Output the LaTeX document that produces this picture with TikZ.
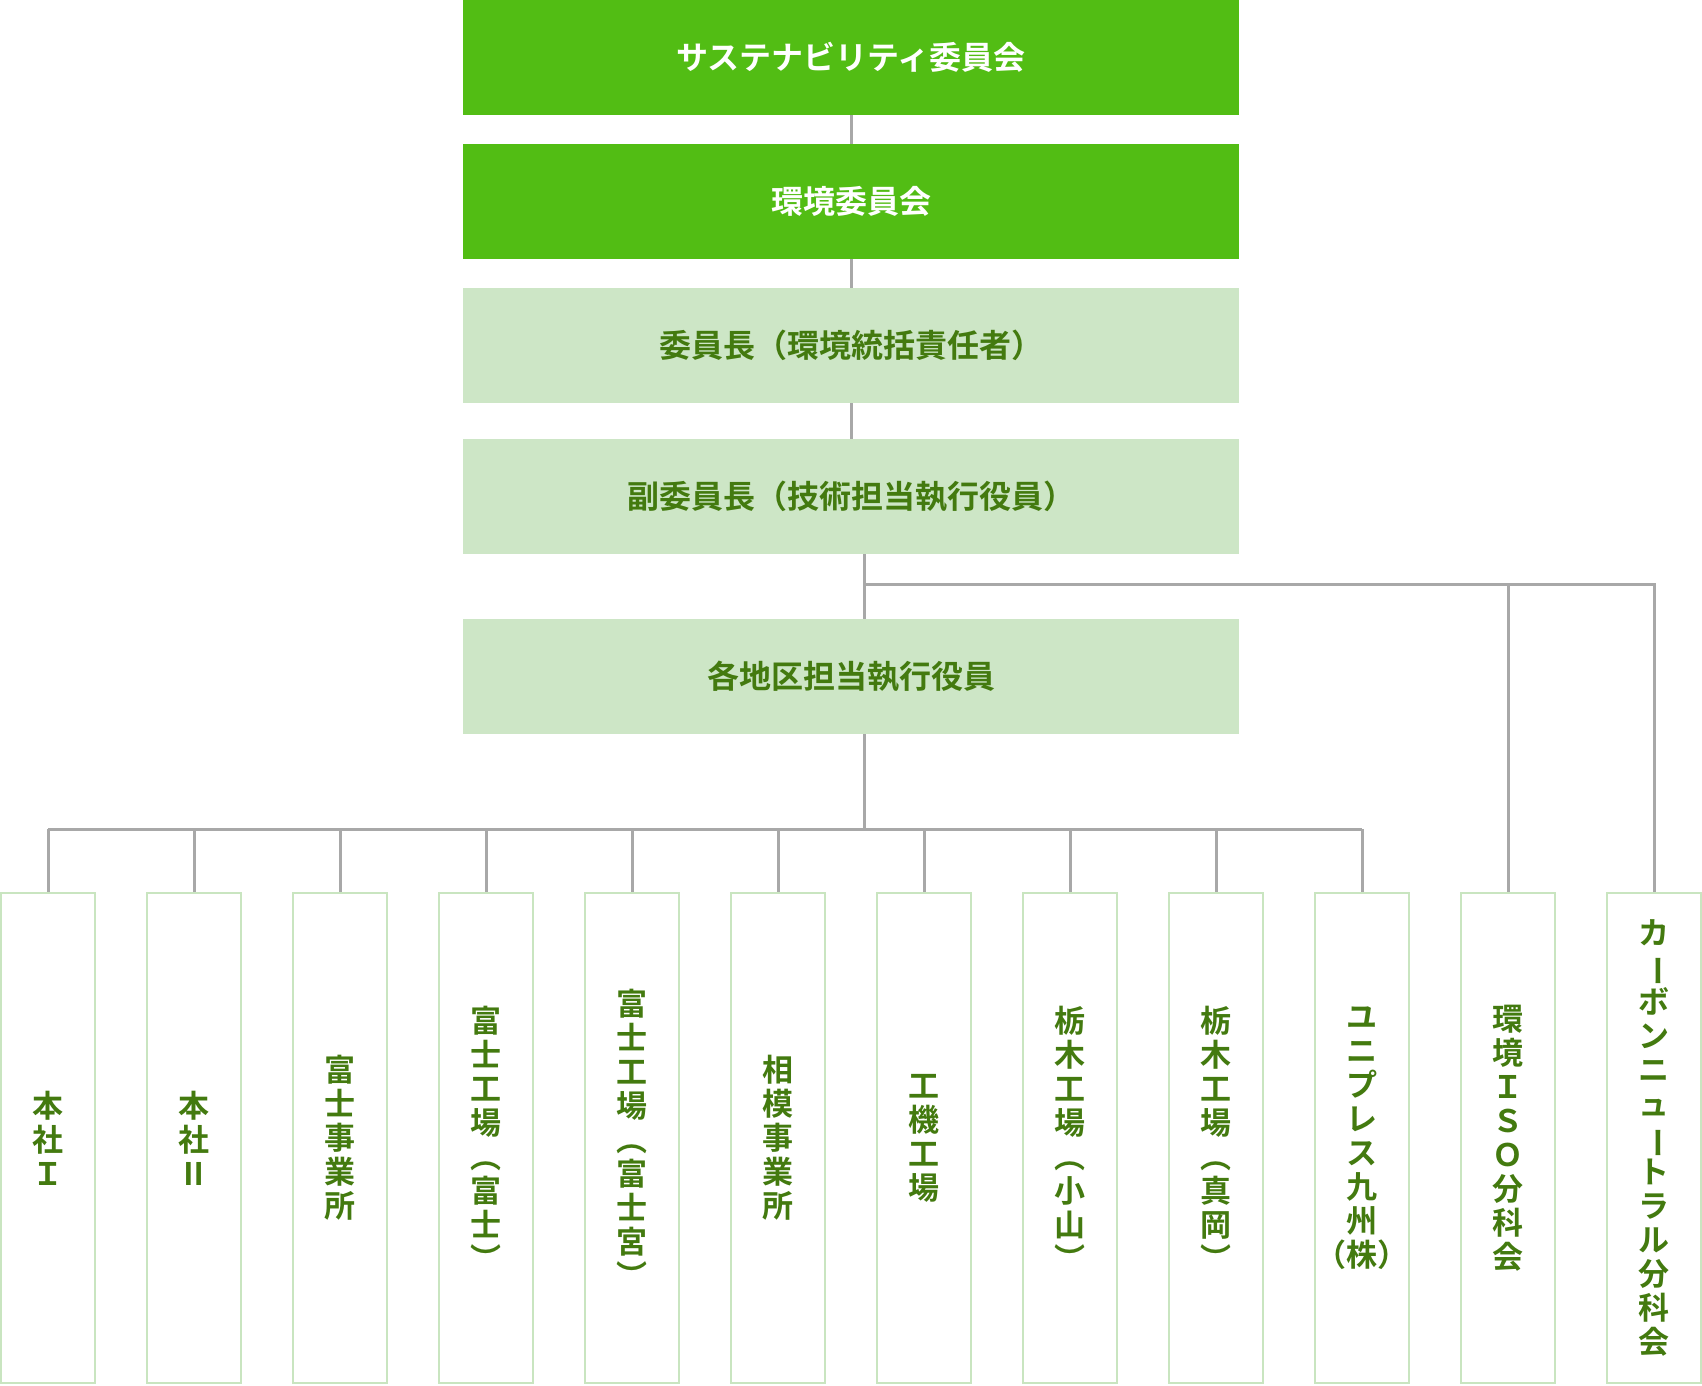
\documentclass[tikz,border=0pt]{standalone}
\usepackage{fontspec}
\newfontfamily\jp{Noto Sans CJK JP}[BoldFont={* Bold}]
\definecolor{dg}{HTML}{52BD14}
\definecolor{lg}{HTML}{CDE6C6}
\definecolor{bd}{HTML}{C9E5C0}
\definecolor{tg}{HTML}{437A0F}
\definecolor{ln}{HTML}{A8A8A8}
\newcommand\vbar{\rotatebox[origin=c]{-90}{ー}}
\begin{document}
\begin{tikzpicture}[x=1pt,y=-1pt,
  topbox/.style={draw=none,fill=dg,text=white,minimum width=776,minimum height=115,inner sep=0,font=\jp\bfseries\fontsize{32}{34}\selectfont},
  midbox/.style={draw=none,fill=lg,text=tg,minimum width=776,minimum height=115,inner sep=0,font=\jp\bfseries\fontsize{32}{34}\selectfont},
  vbox/.style={draw=bd,line width=2,fill=white,text=tg,minimum width=94,minimum height=490,inner sep=0,align=center,font=\jp\bfseries\fontsize{31}{34}\selectfont},
  conn/.style={draw=ln,line width=3}]
\useasboundingbox (0,0) rectangle (1702,1385);
\node[topbox] (a) at (851,57.5) {サステナビリティ委員会};
\node[topbox] (b) at (851,201.5) {環境委員会};
\node[midbox] (c) at (851,345.5) {委員長（環境統括責任者）};
\node[midbox] (d) at (851,496.5) {副委員長（技術担当執行役員）};
\node[midbox] (e) at (851,676.5) {各地区担当執行役員};
\foreach \i/\t in {0/{本\\社\\Ｉ},1/{本\\社\\Ⅱ},2/{富\\士\\事\\業\\所},3/{富\\士\\工\\場\\︵\\富\\士\\︶},4/{富\\士\\工\\場\\︵\\富\\士\\宮\\︶},5/{相\\模\\事\\業\\所},6/{工\\機\\工\\場},7/{栃\\木\\工\\場\\︵\\小\\山\\︶},8/{栃\\木\\工\\場\\︵\\真\\岡\\︶},9/{ユ\\ニ\\プ\\レ\\ス\\九\\州\\（株）},10/{環\\境\\Ｉ\\Ｓ\\Ｏ\\分\\科\\会},11/{カ\\\vbar\\ボ\\ン\\ニ\\ュ\\\vbar\\ト\\ラ\\ル\\分\\科\\会}}
  \node[vbox] (p\i) at ({48+146*\i},1138) {\t};
\coordinate (bus) at (864,829);
\coordinate (br) at (864,584);
\draw[conn] (a) -- (b);
\draw[conn] (b) -- (c);
\draw[conn] (c) -- (d);
\draw[conn] (d.south -| br) -- (e.north -| br);
\draw[conn] (br) -| (p10.north);
\draw[conn] (br) -| (p11.north);
\draw[conn] (e.south -| bus) -- (bus);
\draw[conn] (p0.north |- bus) -- (p9.north |- bus);
\foreach \i in {0,...,9} \draw[conn] (p\i.north |- bus) -- (p\i.north);
\end{tikzpicture}
\end{document}
